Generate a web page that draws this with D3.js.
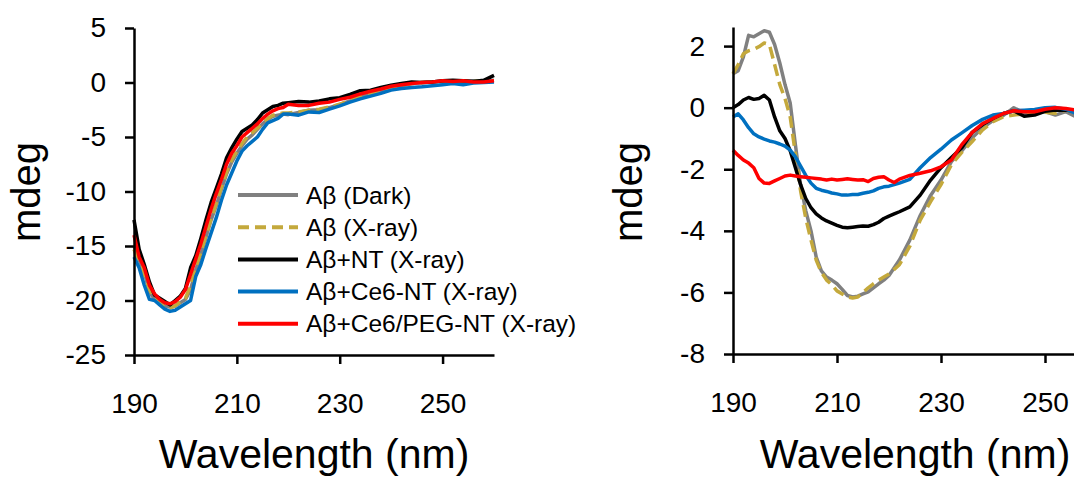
<!DOCTYPE html>
<html>
<head>
<meta charset="utf-8">
<script src="https://cdn.jsdelivr.net/npm/d3@7"></script>
<style>
  html, body { margin: 0; padding: 0; background: #fff; overflow: hidden; }
  svg { display: block; font-family: "Liberation Sans", Arial, sans-serif; }
</style>
</head>
<body>
<svg id="chart" width="1074" height="479"></svg>
<script>
// ---------- DATA ----------
const seriesNames = ["Aβ (Dark)", "Aβ (X-ray)", "Aβ+NT (X-ray)", "Aβ+Ce6-NT (X-ray)", "Aβ+Ce6/PEG-NT (X-ray)"];
const seriesColors = ["#808080", "#c4a93c", "#000000", "#0070c0", "#ff0000"];
const seriesDashed = [false, true, false, false, false];

// Left panel
const leftWavelengths = [190,191,192,193,194,195,196,197,198,199,200,201,202,203,204,205,206,207,208,209,210,211,212,213,214,215,216,217,218,219,220,222,224,226,228,230,232,234,236,238,240,242,244,246,248,250,252,254,256,258,260];
const leftDark  = [-15.0,-16.3,-17.4,-19.2,-19.9,-20.2,-20.5,-20.6,-20.5,-20.2,-19.9,-19.0,-17.2,-15.8,-14.2,-12.6,-11.3,-9.8,-8.4,-7.3,-6.5,-5.8,-5.2,-4.8,-4.3,-3.8,-3.4,-3.1,-3.0,-2.9,-2.95,-2.75,-2.55,-2.5,-2.3,-2.0,-1.7,-1.35,-1.05,-0.8,-0.5,-0.3,-0.1,0.0,0.05,0.1,0.15,0.1,0.15,0.1,0.2];
const leftXray  = [-15.3,-16.5,-17.6,-19.0,-19.8,-20.3,-20.6,-20.7,-20.5,-20.1,-19.8,-18.6,-17.0,-15.6,-14.0,-12.5,-11.1,-9.6,-8.2,-7.1,-6.3,-5.6,-5.0,-4.6,-4.2,-3.7,-3.3,-3.0,-2.9,-2.8,-2.8,-2.7,-2.55,-2.45,-2.25,-2.0,-1.65,-1.3,-1.0,-0.75,-0.45,-0.25,-0.1,0.0,0.05,0.1,0.1,0.15,0.1,0.15,0.15];
const leftNT    = [-12.6,-15.3,-16.7,-18.3,-19.5,-19.8,-20.1,-20.4,-20.0,-19.6,-18.9,-17.0,-15.9,-14.3,-12.6,-11.0,-9.7,-8.4,-6.9,-6.0,-5.2,-4.5,-4.2,-3.9,-3.4,-2.8,-2.5,-2.2,-2.1,-1.9,-1.85,-1.75,-1.8,-1.7,-1.5,-1.4,-1.1,-0.75,-0.7,-0.45,-0.25,-0.1,0.05,0.0,0.05,0.15,0.2,0.15,0.1,0.2,0.65];
const leftCe6   = [-16.0,-17.0,-18.6,-19.9,-20.0,-20.4,-20.8,-21.0,-20.9,-20.6,-20.3,-20.0,-17.8,-16.7,-15.2,-13.8,-12.4,-10.8,-9.4,-8.3,-7.2,-6.3,-5.8,-5.4,-5.0,-4.3,-3.7,-3.5,-3.3,-2.9,-2.9,-3.0,-2.7,-2.75,-2.45,-2.15,-1.8,-1.5,-1.25,-1.0,-0.7,-0.55,-0.45,-0.4,-0.3,-0.2,-0.1,-0.2,-0.05,0.0,0.05];
const leftPEG   = [-14.0,-16.0,-17.0,-18.6,-19.4,-19.9,-20.2,-20.3,-20.1,-19.7,-19.0,-17.6,-16.2,-14.8,-13.2,-11.6,-10.2,-8.9,-7.5,-6.5,-5.8,-5.0,-4.6,-4.2,-3.8,-3.3,-2.9,-2.6,-2.4,-2.3,-2.0,-2.1,-2.1,-1.9,-1.8,-1.55,-1.35,-1.05,-0.8,-0.6,-0.35,-0.2,-0.1,0.0,0.05,0.15,0.1,0.15,0.05,0.05,0.15];

// Right panel
const rightWavelengths = [190,191,192,193,194,195,196,197,198,199,200,201,202,203,204,205,206,207,208,209,210,211,212,213,214,215,216,217,218,219,220,221,222,224,226,228,230,232,234,236,238,240,242,244,246,248,250,252,254,256,258,260];
const rightDark = [1.1,1.2,1.65,2.35,2.3,2.4,2.5,2.45,2.05,1.45,0.75,0.15,-1.2,-2.5,-3.35,-4.0,-4.85,-5.3,-5.5,-5.6,-5.72,-5.9,-6.1,-6.15,-6.12,-6.05,-5.98,-5.85,-5.72,-5.6,-5.45,-5.2,-4.95,-4.3,-3.5,-2.85,-2.35,-1.75,-1.4,-0.98,-0.65,-0.42,-0.25,0.0,-0.18,-0.1,-0.13,-0.24,-0.13,-0.3,-0.2,-0.2];
const rightXray = [1.1,1.4,1.75,1.85,1.9,1.98,2.1,2.05,1.4,0.75,0.3,-0.3,-1.5,-2.7,-3.6,-4.3,-4.95,-5.35,-5.6,-5.75,-5.95,-6.05,-6.15,-6.18,-6.15,-6.0,-5.85,-5.72,-5.6,-5.5,-5.4,-5.25,-5.1,-4.5,-3.65,-3.05,-2.5,-1.85,-1.45,-1.1,-0.72,-0.45,-0.3,-0.24,-0.2,-0.15,-0.15,-0.18,-0.08,-0.15,-0.12,-0.1];
const rightNT   = [0.0,0.1,0.25,0.33,0.27,0.3,0.4,0.25,-0.3,-0.75,-1.0,-1.4,-1.95,-2.5,-2.95,-3.25,-3.45,-3.58,-3.68,-3.75,-3.82,-3.88,-3.9,-3.88,-3.86,-3.84,-3.85,-3.8,-3.72,-3.6,-3.52,-3.45,-3.38,-3.22,-2.84,-2.35,-1.95,-1.62,-1.3,-0.8,-0.55,-0.35,-0.19,-0.1,-0.28,-0.24,-0.12,-0.08,-0.08,-0.13,-0.1,-0.1];
const rightCe6  = [-0.3,-0.2,-0.4,-0.65,-0.85,-0.95,-1.02,-1.08,-1.12,-1.18,-1.25,-1.38,-1.6,-1.9,-2.2,-2.45,-2.62,-2.68,-2.72,-2.77,-2.8,-2.84,-2.84,-2.82,-2.82,-2.78,-2.75,-2.7,-2.62,-2.57,-2.55,-2.5,-2.45,-2.33,-1.95,-1.62,-1.35,-1.05,-0.82,-0.58,-0.38,-0.24,-0.19,-0.1,-0.08,-0.06,0.0,0.01,-0.05,-0.19,-0.15,-0.15];
const rightPEG  = [-1.38,-1.55,-1.7,-1.8,-1.95,-2.3,-2.45,-2.46,-2.38,-2.3,-2.22,-2.19,-2.22,-2.24,-2.26,-2.28,-2.3,-2.32,-2.35,-2.32,-2.35,-2.33,-2.31,-2.33,-2.35,-2.34,-2.4,-2.3,-2.26,-2.24,-2.35,-2.43,-2.32,-2.2,-2.13,-2.05,-1.92,-1.7,-1.2,-0.8,-0.52,-0.35,-0.19,-0.1,-0.13,-0.13,-0.05,0.0,-0.03,-0.08,-0.08,-0.08];

const xTicks = [190, 210, 230, 250];
const leftYTicks = [-25, -20, -15, -10, -5, 0, 5];
const rightYTicks = [-8, -6, -4, -2, 0, 2];
const xTitle = "Wavelength (nm)";
const yTitle = "mdeg";

// ---------- DRAW ----------
const svg = d3.select("#chart");

function drawPanel(opts) {
  const g = svg.append("g");
  const x = d3.scaleLinear().domain([190, 260]).range([opts.x0, opts.x1]);
  const y = d3.scaleLinear().domain(opts.yDomain).range([opts.yBottom, opts.yTop]);

  opts.series.forEach((vals, i) => {
    const line = d3.line()
      .x((d, j) => x(opts.wl[j]))
      .y(d => y(d))
      .curve(d3.curveLinear);
    g.append("path")
      .datum(vals)
      .attr("fill", "none")
      .attr("stroke", seriesColors[i])
      .attr("stroke-width", 3.5)
      .attr("stroke-linejoin", "round")
      .attr("stroke-linecap", "butt")
      .attr("stroke-dasharray", seriesDashed[i] ? "12,6" : null)
      .attr("d", line);
  });

  const xAxis = d3.axisBottom(x).tickValues(xTicks).tickSize(9).tickSizeOuter(0).tickPadding(29);
  const yAxis = d3.axisLeft(y).tickValues(opts.yTicks).tickSize(9).tickSizeOuter(0).tickPadding(19);

  const gx = g.append("g").attr("transform", `translate(0,${opts.yBottom})`).call(xAxis);
  const gy = g.append("g").attr("transform", `translate(${opts.x0},0)`).call(yAxis);
  [gx, gy].forEach(a => {
    a.select(".domain").attr("stroke", "#000").attr("stroke-width", 2.5);
    a.selectAll(".tick line").attr("stroke", "#000").attr("stroke-width", 2.5);
    a.selectAll(".tick text").attr("fill", "#000").style("font-size", "28px")
      .style("font-family", '"Liberation Sans", Arial, sans-serif');
  });
  gy.selectAll(".tick text").text(d => String(d).replace("−", "-"));

  g.append("text")
    .attr("x", (opts.x0 + opts.x1) / 2)
    .attr("y", 468)
    .attr("text-anchor", "middle")
    .style("font-size", "41px")
    .attr("fill", "#000")
    .text(xTitle);

  g.append("text")
    .attr("transform", `translate(${opts.yTitleX},192) rotate(-90)`)
    .attr("text-anchor", "middle")
    .style("font-size", "40px")
    .attr("fill", "#000")
    .text(yTitle);
  return { g, x, y };
}

drawPanel({
  x0: 134, x1: 494, yTop: 28, yBottom: 355, yDomain: [-25, 5],
  yTicks: leftYTicks, wl: leftWavelengths,
  series: [leftDark, leftXray, leftNT, leftCe6, leftPEG],
  yTitleX: 40
});

drawPanel({
  x0: 733, x1: 1097, yTop: 27, yBottom: 354, yDomain: [-8, 2.62],
  yTicks: rightYTicks, wl: rightWavelengths,
  series: [rightDark, rightXray, rightNT, rightCe6, rightPEG],
  yTitleX: 642
});

// Legend (left panel)
const legend = svg.append("g");
seriesNames.forEach((name, i) => {
  const yy = 195 + i * 32.2;
  legend.append("line")
    .attr("x1", 238).attr("x2", 298).attr("y1", yy).attr("y2", yy)
    .attr("stroke", seriesColors[i]).attr("stroke-width", 4)
    .attr("stroke-dasharray", seriesDashed[i] ? "11,6" : null);
  legend.append("text")
    .attr("x", 306).attr("y", yy).attr("dy", "0.35em")
    .style("font-size", "24.5px").attr("fill", "#000")
    .text(name);
});
</script>
</body>
</html>
